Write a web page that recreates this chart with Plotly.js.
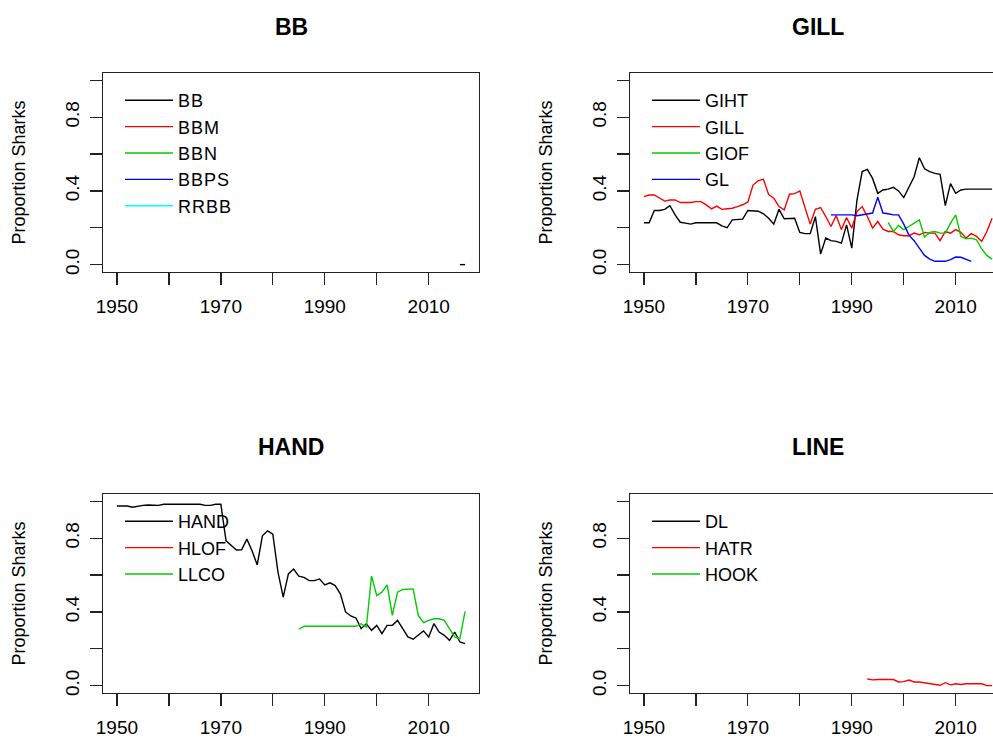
<!DOCTYPE html>
<html>
<head>
<meta charset="utf-8">
<script src="https://cdn.plot.ly/plotly-3.0.1.min.js"></script>
<style>
html, body { margin:0; padding:0; overflow:hidden; background:#fff; }
#chart { width:1054px; height:743px; }
#chart .legendtext { letter-spacing: 1px; }
</style>
</head>
<body>
<div id="chart"></div>
<script>
// ---------- data ----------
const yearsFull = [1950,1951,1952,1953,1954,1955,1956,1957,1958,1959,1960,1961,1962,1963,1964,1965,1966,1967,1968,1969,
  1970,1971,1972,1973,1974,1975,1976,1977,1978,1979,1980,1981,1982,1983,1984,1985,1986,1987,1988,1989,
  1990,1991,1992,1993,1994,1995,1996,1997,1998,1999,2000,2001,2002,2003,2004,2005,2006,2007,2008,2009,
  2010,2011,2012,2013,2014,2015,2016,2017];
const yearsNone = [null];   // series with no plotted values (legend only)

// BB panel
const yearsBB = [2016, 2017];
const BB   = [0, 0];
const BBM  = [null];
const BBN  = [null];
const BBPS = [null];
const RRBB = [null];

// GILL panel
const GIHT = [0.227,0.227,0.294,0.294,0.300,0.320,0.270,0.230,0.225,0.220,0.227,0.227,0.227,0.227,0.227,0.210,0.200,0.243,0.243,0.247,
  0.294,0.294,0.290,0.276,0.252,0.220,0.300,0.249,0.249,0.252,0.175,0.168,0.168,0.260,0.058,0.144,0.130,0.126,0.117,0.216,
  0.090,0.350,0.505,0.517,0.468,0.387,0.405,0.410,0.420,0.400,0.364,0.423,0.477,0.580,0.520,0.505,0.495,0.490,0.320,0.440,
  0.387,0.405,0.410,0.410,0.410,0.410,0.410,0.410];
const GILL = [0.369,0.378,0.378,0.360,0.345,0.351,0.351,0.337,0.337,0.337,0.342,0.342,0.324,0.303,0.318,0.300,0.303,0.306,0.315,0.325,
  0.340,0.432,0.456,0.463,0.380,0.360,0.315,0.297,0.382,0.385,0.400,0.310,0.220,0.300,0.310,0.261,0.207,0.267,0.190,0.256,
  0.198,0.288,0.315,0.261,0.198,0.234,0.193,0.180,0.180,0.162,0.157,0.157,0.171,0.162,0.175,0.171,0.171,0.130,0.180,0.171,
  0.190,0.175,0.144,0.168,0.153,0.126,0.180,0.252];
const yearsGIOF = [1997,1998,1999,2000,2001,2002,2003,2004,2005,2006,2007,2008,2009,2010,2011,2012,2013,2014,2015,2016,2017];
const GIOF = [0.229,0.180,0.213,0.190,0.207,0.225,0.243,0.150,0.175,0.180,0.171,0.171,0.225,0.270,0.153,0.140,0.144,0.135,0.085,0.050,0.030];
const yearsGL = [1986,1987,1988,1989,1990,1991,1992,1993,1994,1995,1996,1997,1998,1999,2000,2001,2002,2003,2004,2005,2006,2007,2008,2009,2010,2011,2012,2013];
const GL = [0.270,0.270,0.270,0.270,0.270,0.265,0.270,0.276,0.280,0.366,0.280,0.276,0.270,0.270,0.220,0.160,0.130,0.090,0.050,0.030,0.018,0.018,0.018,0.027,0.041,0.040,0.027,0.018];

// HAND panel
const HAND = [0.975,0.975,0.975,0.968,0.975,0.978,0.980,0.980,0.978,0.984,0.984,0.984,0.984,0.984,0.984,0.984,0.984,0.978,0.978,0.984,
  0.984,0.786,0.759,0.736,0.737,0.795,0.732,0.655,0.813,0.840,0.822,0.615,0.480,0.606,0.633,0.594,0.588,0.570,0.570,0.579,
  0.547,0.558,0.543,0.498,0.400,0.378,0.367,0.309,0.336,0.300,0.327,0.282,0.327,0.327,0.354,0.309,0.264,0.252,0.273,0.297,
  0.264,0.336,0.291,0.273,0.246,0.291,0.237,0.228];
const HLOF = [null];
const yearsLLCO = [1985,1986,1987,1988,1989,1990,1991,1992,1993,1994,1995,1996,1997,1998,1999,2000,2001,2002,2003,2004,2005,2006,2007,2008,2009,2010,2011,2012,2013,2014,2015,2016,2017];
const LLCO = [0.306,0.322,0.322,0.322,0.322,0.322,0.322,0.322,0.322,0.322,0.322,0.322,0.336,0.318,0.594,0.489,0.507,0.547,0.381,0.507,0.522,0.525,0.525,0.381,0.342,0.354,0.363,0.363,0.354,0.310,0.265,0.255,0.403];

// LINE panel
const DL = [null];
const yearsHATR = [1993,1994,1995,1996,1997,1998,1999,2000,2001,2002,2003,2004,2005,2006,2007,2008,2009,2010,2011,2012,2013,2014,2015,2016,2017];
const HATR = [0.036,0.031,0.033,0.033,0.036,0.033,0.020,0.022,0.030,0.020,0.020,0.015,0.009,0.005,0.002,0.016,0.004,0.010,0.006,0.010,0.010,0.010,0.010,0.000,0.000];
const HOOK = [null];

const panelTitles = ['BB', 'GILL', 'HAND', 'LINE'];
const yTitle = 'Proportion Sharks';
const xTickVals = [1950,1960,1970,1980,1990,2000,2010];
const xTickText = ['1950','','1970','','1990','','2010'];
const yTickVals = [0,0.2,0.4,0.6,0.8,1.0];
const yTickText = ['0.0','','0.4','','0.8',''];

// ---------- styling ----------
const COL = {black:'#000000', red:'#FF0000', green:'#00CD00', blue:'#0000FF', cyan:'#00FFFF'};
const W = 1054, H = 743;
const FONT = 'Liberation Sans, Arial, sans-serif';
const boxX = [[103,479],[630,1006]];
const boxY = [[73,272],[494,693]];

function tr(x, y, name, color, ax, leg) {
  return {x:x, y:y, name:name, type:'scatter', mode:'lines', connectgaps:false,
    line:{color:color, width:1.4}, xaxis:'x'+ax, yaxis:'y'+ax, legend:leg, hoverinfo:'skip'};
}

const traces = [
  tr(yearsBB, BB, 'BB', COL.black, '', 'legend'),
  tr(yearsNone, BBM, 'BBM', COL.red, '', 'legend'),
  tr(yearsNone, BBN, 'BBN', COL.green, '', 'legend'),
  tr(yearsNone, BBPS, 'BBPS', COL.blue, '', 'legend'),
  tr(yearsNone, RRBB, 'RRBB', COL.cyan, '', 'legend'),
  tr(yearsFull, GIHT, 'GIHT', COL.black, '2', 'legend2'),
  tr(yearsFull, GILL, 'GILL', COL.red, '2', 'legend2'),
  tr(yearsGIOF, GIOF, 'GIOF', COL.green, '2', 'legend2'),
  tr(yearsGL, GL, 'GL', COL.blue, '2', 'legend2'),
  tr(yearsFull, HAND, 'HAND', COL.black, '3', 'legend3'),
  tr(yearsNone, HLOF, 'HLOF', COL.red, '3', 'legend3'),
  tr(yearsLLCO, LLCO, 'LLCO', COL.green, '3', 'legend3'),
  tr(yearsNone, DL, 'DL', COL.black, '4', 'legend4'),
  tr(yearsHATR, HATR, 'HATR', COL.red, '4', 'legend4'),
  tr(yearsNone, HOOK, 'HOOK', COL.green, '4', 'legend4')
];

const layout = {
  width: W, height: H,
  margin: {l:0, r:0, t:0, b:0},
  paper_bgcolor: '#ffffff', plot_bgcolor: '#ffffff',
  font: {family: FONT, size: 19, color: '#000'},
  showlegend: true,
  annotations: []
};

const legNames = ['legend','legend2','legend3','legend4'];
for (let i = 0; i < 4; i++) {
  const col = i % 2, row = Math.floor(i / 2);
  const sfx = i === 0 ? '' : String(i + 1);
  const bx = boxX[col], by = boxY[row];
  layout['xaxis' + sfx] = {
    domain: [bx[0] / W, bx[1] / W],
    anchor: 'y' + sfx,
    range: [1947.32, 2019.68],
    tickmode: 'array', tickvals: xTickVals, ticktext: xTickText,
    ticks: 'outside', ticklen: 12, tickwidth: 1.3, tickcolor: '#222',
    showline: true, linecolor: '#222', linewidth: 1.4, mirror: true,
    showgrid: false, zeroline: false, fixedrange: true,
    ticklabelstandoff: 5,
    tickfont: {family: FONT, size: 19, color: '#000'}
  };
  layout['yaxis' + sfx] = {
    domain: [1 - by[1] / H, 1 - by[0] / H],
    anchor: 'x' + sfx,
    range: [-0.04, 1.04],
    tickmode: 'array', tickvals: yTickVals, ticktext: yTickText,
    tickangle: -90,
    ticks: 'outside', ticklen: 12, tickwidth: 1.3, tickcolor: '#222',
    showline: true, linecolor: '#222', linewidth: 1.4, mirror: true,
    showgrid: false, zeroline: false, fixedrange: true,
    ticklabelstandoff: 3,
    tickfont: {family: FONT, size: 19, color: '#000'},
    title: {text: yTitle, font: {family: FONT, size: 18, color: '#000'}, standoff: 31}
  };
  layout[legNames[i]] = {
    x: (bx[0] + 17) / W, y: 1 - (by[0] + 9) / H,
    xanchor: 'left', yanchor: 'top',
    bgcolor: 'rgba(0,0,0,0)', borderwidth: 0,
    itemwidth: 48,
    font: {family: FONT, size: 18, color: '#000'},
    itemclick: false, itemdoubleclick: false
  };
  layout.annotations.push({
    text: '<b>' + panelTitles[i] + '</b>',
    xref: 'paper', yref: 'paper',
    x: (bx[0] + bx[1]) / 2 / W, y: 1 - (row === 0 ? 27 : 447) / H,
    xanchor: 'center', yanchor: 'middle', showarrow: false,
    font: {family: FONT, size: 23, color: '#000'}
  });
}

Plotly.newPlot('chart', traces, layout, {staticPlot: true, displayModeBar: false});
</script>
</body>
</html>
